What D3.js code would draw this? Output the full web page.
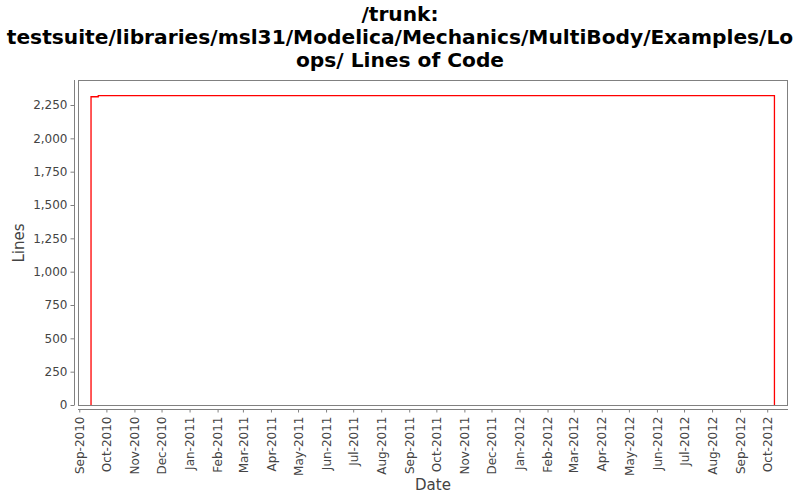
<!DOCTYPE html>
<html><head><meta charset="utf-8">
<script src="https://cdn.jsdelivr.net/npm/d3@7"></script>
<style>body{margin:0;background:#fff}svg{display:block}text{font-family:"DejaVu Sans",sans-serif}</style>
</head><body><svg id="c" width="800" height="500"></svg>
<script>
const titleLines = ["/trunk:", "testsuite/libraries/msl31/Modelica/Mechanics/MultiBody/Examples/Lo", "ops/ Lines of Code"];
const dates = ["2010-09-14", "2010-09-14", "2010-09-22", "2012-10-09", "2012-10-09"];
const values = [0, 2312, 2320, 2320, 0];
const yTicks = [0, 250, 500, 750, 1000, 1250, 1500, 1750, 2000, 2250];
const xDomain = ["2010-08-30T14:00", "2012-10-24T00:00"];
const yMax = 2437.5;

const svg = d3.select("#c");
const L = 78, R = 788, T = 80, B = 405;
const parse = d3.isoParse;
const x = d3.scaleTime().domain(xDomain.map(d => new Date(d))).range([L, R]);
const y = d3.scaleLinear().domain([0, yMax]).range([B, T]);

// title
svg.append("g").selectAll("text").data(titleLines).join("text")
  .attr("x", 400).attr("y", (d, i) => 21 + i * 23)
  .attr("text-anchor", "middle").attr("font-size", 20.2).attr("font-weight", "bold")
  .attr("fill", "#000").text(d => d);

// plot frame
svg.append("rect").attr("x", L + 0.5).attr("y", T + 0.5).attr("width", R - L - 1).attr("height", B - T)
  .attr("fill", "#fff").attr("stroke", "#808080").attr("stroke-width", 1);

// y axis
const yAxis = svg.append("g").attr("transform", "translate(74.5,0)")
  .call(d3.axisLeft(y).tickValues(yTicks).tickFormat(d3.format(",")).tickSize(4).tickPadding(3));
yAxis.select(".domain").attr("stroke", "#808080").attr("d", `M0,${T}V${B}`);
yAxis.selectAll(".tick line").attr("stroke", "#808080");
yAxis.selectAll(".tick text").attr("fill", "#444").attr("font-size", 12).attr("font-family", "DejaVu Sans");

// x axis
const months = d3.timeMonth.range(new Date(2010, 8, 1), new Date(2012, 10, 1));
const xAxis = svg.append("g").attr("transform", "translate(0,409.5)")
  .call(d3.axisBottom(x).tickValues(months).tickFormat(d3.timeFormat("%b-%Y")).tickSize(3));
xAxis.select(".domain").attr("stroke", "#808080").attr("d", `M${L},0H${R}`);
xAxis.selectAll(".tick line").attr("stroke", "#808080");
xAxis.selectAll(".tick text").attr("fill", "#444").attr("font-size", 12).attr("font-family", "DejaVu Sans")
  .attr("transform", "rotate(-90)").attr("text-anchor", "end")
  .attr("x", -7).attr("y", 0).attr("dy", "0.35em");

// axis labels
svg.append("text").attr("transform", "translate(24,243) rotate(-90)").attr("text-anchor", "middle")
  .attr("font-size", 15).attr("fill", "#444").text("Lines");
svg.append("text").attr("x", 433).attr("y", 490).attr("text-anchor", "middle")
  .attr("font-size", 15).attr("fill", "#444").text("Date");

// line
const data = dates.map((d, i) => ({ d: parse(d + "T00:00"), v: values[i] }));
svg.append("path").datum(data)
  .attr("fill", "none").attr("stroke", "#ff0000").attr("stroke-width", 1.3)
  .attr("d", d3.line().x(d => x(d.d)).y(d => y(d.v)).curve(d3.curveStepAfter));
</script></body></html>
